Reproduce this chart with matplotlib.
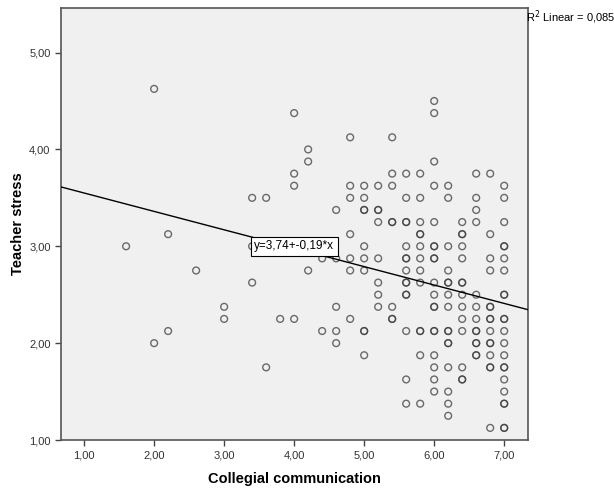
import numpy as np
import matplotlib.pyplot as plt

plt.rcParams['font.family'] = ['Liberation Sans', 'DejaVu Sans']

# teacher stress levels and the collegial communication scores seen at each
# (a repeated x means overlapping cases, drawn darker in the original)
stress_levels = [4.625, 4.5, 4.375, 4.125, 4.0, 3.875, 3.75, 3.625, 3.5, 3.375,
                 3.25, 3.125, 3.0, 2.875, 2.75, 2.625, 2.5, 2.375, 2.25, 2.125,
                 2.0, 1.875, 1.75, 1.625, 1.5, 1.375, 1.25, 1.125]
comm_at_level = [
    [2.0],
    [6.0],
    [4.0, 6.0],
    [4.8, 5.4],
    [4.2],
    [4.2, 6.0],
    [4.0, 5.4, 5.6, 5.8, 6.6, 6.8],
    [4.0, 4.8, 5.0, 5.2, 5.4, 6.0, 6.2, 7.0],
    [3.4, 3.6, 4.8, 5.0, 5.6, 5.8, 6.2, 6.6, 7.0],
    [4.6, 5.0, 5.0, 5.2, 5.2, 6.6],
    [5.2, 5.4, 5.4, 5.6, 5.6, 5.8, 6.0, 6.4, 6.6, 7.0],
    [2.2, 4.8, 5.8, 5.8, 6.4, 6.4, 6.8],
    [1.6, 3.4, 5.0, 5.6, 5.8, 6.0, 6.0, 6.2, 6.4, 7.0, 7.0],
    [4.4, 4.6, 4.8, 5.0, 5.2, 5.6, 5.6, 5.8, 6.0, 6.0, 6.4, 6.8, 7.0],
    [2.6, 4.2, 4.8, 5.0, 5.6, 5.8, 6.2, 6.8, 7.0],
    [3.4, 5.2, 5.6, 5.6, 5.8, 6.0, 6.2, 6.2, 6.4, 6.4],
    [5.2, 5.6, 5.6, 6.0, 6.2, 6.4, 6.6, 7.0, 7.0],
    [3.0, 4.6, 5.2, 5.4, 6.0, 6.0, 6.2, 6.4, 6.6, 6.8, 6.8],
    [3.0, 3.8, 4.0, 4.8, 5.4, 5.4, 6.4, 6.6, 6.8, 6.8, 7.0, 7.0],
    [2.2, 4.4, 4.6, 5.0, 5.0, 5.6, 5.8, 5.8, 6.0, 6.0, 6.2, 6.2, 6.4, 6.6, 6.6, 6.8, 7.0],
    [2.0, 4.6, 6.2, 6.2, 6.6, 6.6, 6.8, 6.8, 7.0],
    [5.0, 5.8, 6.0, 6.6, 6.6, 6.8, 7.0],
    [3.6, 6.0, 6.2, 6.4, 6.8, 6.8, 7.0, 7.0],
    [5.6, 6.0, 6.4, 6.4, 7.0],
    [6.0, 6.2, 7.0],
    [5.6, 5.8, 6.2, 7.0, 7.0],
    [6.2],
    [6.8, 7.0, 7.0],
]

intercept, slope = 3.74, -0.19
r2_text = "R$^2$ Linear = 0,085"
eq_text = "y=3,74+-0,19*x"

x_ticks = [1, 2, 3, 4, 5, 6, 7]
y_ticks = [1, 2, 3, 4, 5]

comm = [x for xs in comm_at_level for x in xs]
stress = [y for y, xs in zip(stress_levels, comm_at_level) for _ in xs]

fig = plt.figure(figsize=(6.14, 4.90), dpi=100)
ax = fig.add_axes([61 / 614, 50 / 490, 467 / 614, 432 / 490])
ax.set_facecolor('#f0f0f0')

ax.scatter(comm, stress, s=24, facecolors='none', edgecolors='#3c3c3c',
           linewidths=1.0, alpha=0.75, zorder=3)

xlim = (0.67, 7.34)
ax.set_xlim(*xlim)
ax.set_ylim(1.0, 5.46)
xs = np.array(xlim)
ax.plot(xs, intercept + slope * xs, color='black', lw=1.0, zorder=4)

ax.text(3.43, 3.0, eq_text, fontsize=8.5, va='center', ha='left', zorder=5,
        bbox=dict(boxstyle='square,pad=0.3', fc='white', ec='black', lw=0.8))
fig.text(526 / 614, 1 - 17 / 490, r2_text, fontsize=8, va='center', ha='left')

ax.set_xticks(x_ticks)
ax.set_xticklabels([f"{v:.2f}".replace('.', ',') for v in x_ticks])
ax.set_yticks(y_ticks)
ax.set_yticklabels([f"{v:.2f}".replace('.', ',') for v in y_ticks])
ax.tick_params(labelsize=8, length=4, width=1, color='#444444', labelcolor='#333333')

for sp in ax.spines.values():
    sp.set_color('#555555')
    sp.set_linewidth(1.2)

ax.set_xlabel('Collegial communication', fontsize=10.5, fontweight='bold', labelpad=8)
ax.set_ylabel('Teacher stress', fontsize=10.5, fontweight='bold', labelpad=3)

fig.savefig('out.png', dpi=100)
